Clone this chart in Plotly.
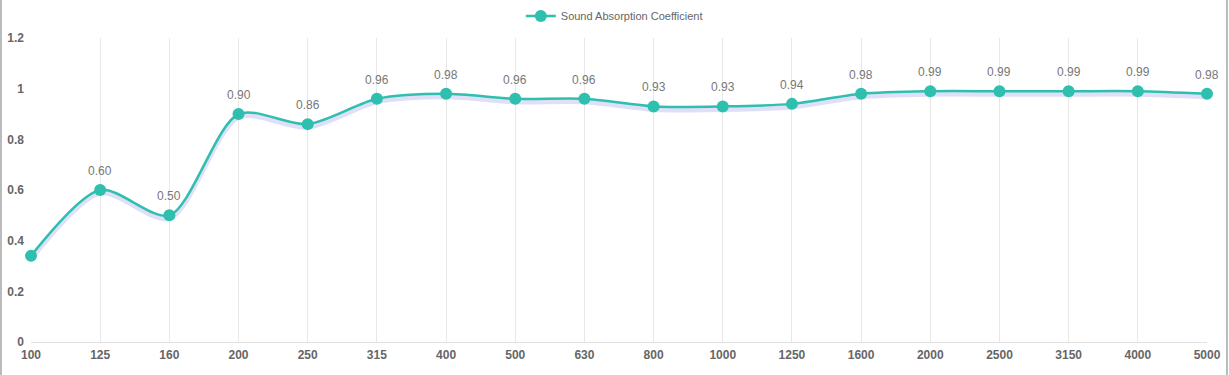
import plotly.graph_objects as go

frequencies = ["100", "125", "160", "200", "250", "315", "400", "500", "630",
               "800", "1000", "1250", "1600", "2000", "2500", "3150", "4000", "5000"]
coefficients = [0.34, 0.60, 0.50, 0.90, 0.86, 0.96, 0.98, 0.96, 0.96,
                0.93, 0.93, 0.94, 0.98, 0.99, 0.99, 0.99, 0.99, 0.98]
value_labels = [""] + ["%.2f" % v for v in coefficients[1:]]

series_name = "Sound Absorption Coefficient"
color = "#2ebfae"

W, H = 1229, 375
ml, mr, mt, mb = 31, 22, 38, 33

fig = go.Figure()

# soft shadow under the line
shadow_offset = 0.012
fig.add_trace(go.Scatter(
    x=frequencies, y=[v - shadow_offset for v in coefficients],
    mode="lines", line=dict(color="rgba(110,110,220,0.22)", width=5, shape="spline", smoothing=0.8),
    hoverinfo="skip", showlegend=False, cliponaxis=False,
))

fig.add_trace(go.Scatter(
    x=frequencies, y=coefficients, name=series_name,
    mode="lines+markers",
    line=dict(color=color, width=2.5, shape="spline", smoothing=0.8),
    marker=dict(color=color, size=12),
    cliponaxis=False,
))

for i, (v, lab) in enumerate(zip(coefficients, value_labels)):
    if lab:
        fig.add_annotation(x=i, y=v, text=lab, showarrow=False, yshift=19,
                           font=dict(family="Liberation Sans, Arial", size=12, color="#777777"))

pw = W - ml - mr
fig.add_shape(type="line", xref="paper", yref="paper",
              x0=(1 - ml) / pw, x1=(1 - ml) / pw, y0=-10, y1=10,
              line=dict(color="#bbbbbb", width=2))
fig.add_shape(type="line", xref="paper", yref="paper",
              x0=(W - 2 - ml) / pw, x1=(W - 2 - ml) / pw, y0=-10, y1=10,
              line=dict(color="#bbbbbb", width=2))

ph = H - mt - mb
fig.update_layout(
    width=W, height=H,
    margin=dict(l=ml, r=mr, t=mt, b=mb, autoexpand=False),
    paper_bgcolor="white", plot_bgcolor="white",
    font=dict(family="Liberation Sans, Arial", color="#666666"),
    showlegend=True,
    legend=dict(orientation="h", x=0.496, xanchor="center", y=1 + (mt - 16) / ph, yanchor="middle",
                font=dict(size=11, color="#666666"), bgcolor="rgba(0,0,0,0)"),
    xaxis=dict(
        type="category", range=[0, len(frequencies) - 1], automargin=False,
        showgrid=True, gridcolor="#e8e8e8", gridwidth=1,
        showline=True, linecolor="#e0e0e0", linewidth=1,
        ticks="", tickfont=dict(size=12, color="#666666", weight="bold"),
        ticklabelstandoff=2,
        zeroline=False, fixedrange=True,
    ),
    yaxis=dict(
        range=[0, 1.2], dtick=0.2, tick0=0, automargin=False,
        showgrid=False, zeroline=False, showline=False,
        ticks="", tickfont=dict(size=12, color="#666666", weight="bold"),
        ticklabelstandoff=6,
    ),
)

fig.write_html("out.html", config={"displayModeBar": False},
               post_script="document.body.style.margin='0';document.body.style.overflow='hidden';")
